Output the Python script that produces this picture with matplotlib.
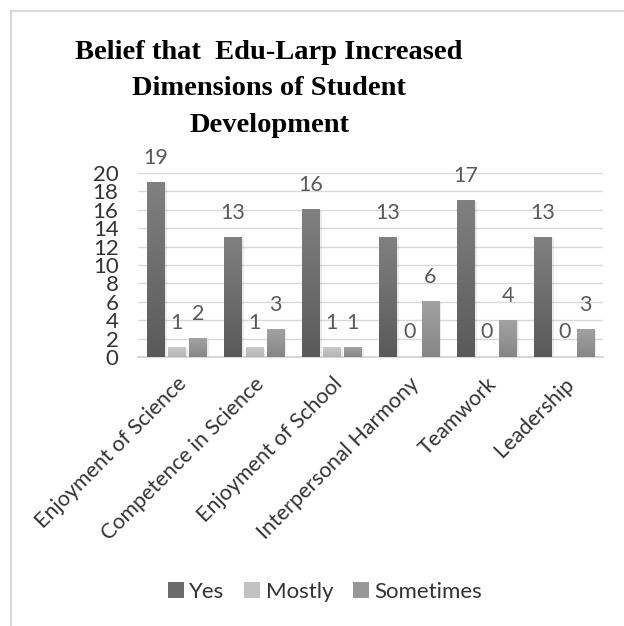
import matplotlib
matplotlib.use('Agg')
import matplotlib.pyplot as plt
import numpy as np
from matplotlib.patches import Rectangle
from matplotlib.colors import LinearSegmentedColormap
from matplotlib.transforms import ScaledTranslation

categories = ["Enjoyment of Science", "Competence in Science", "Enjoyment of School",
              "Interpersonal Harmony", "Teamwork", "Leadership"]
yes = [19, 13, 16, 13, 17, 13]
mostly = [1, 1, 1, 0, 0, 0]
sometimes = [2, 3, 1, 6, 4, 3]
series_names = ["Yes", "Mostly", "Sometimes"]
yticks = [0, 2, 4, 6, 8, 10, 12, 14, 16, 18, 20]

# (top colour, bottom colour, legend colour)
shades = [('#808080', '#5a5a5a', '#6b6b6b'),
          ('#c9c9c9', '#b4b4b4', '#c2c2c2'),
          ('#a2a2a2', '#868686', '#979797')]

text_grey = '#595959'
font = 'Lato'

fig = plt.figure(figsize=(6.24, 6.26), dpi=100, facecolor='white')
ax = fig.add_axes([138 / 624, 269 / 626, 465 / 624, 184 / 626])

x = np.arange(len(categories))
width = 0.225
step = 0.272
series = [yes, mostly, sometimes]

for i, vals in enumerate(series):
    top, bot, _ = shades[i]
    cmap = LinearSegmentedColormap.from_list('g%d' % i, [bot, top])
    for xi, v in zip(x + (i - 1) * step, vals):
        x0 = xi - width / 2
        if v > 0:
            # soft shadow
            ax.add_patch(Rectangle((x0 + 0.03, 0), width, v - 0.1, facecolor='#000000',
                                   alpha=0.08, linewidth=0, zorder=2))
            grad = np.linspace(0, 1, 64).reshape(-1, 1)
            ax.imshow(grad, cmap=cmap, extent=(x0, x0 + width, 0, v), origin='lower',
                      aspect='auto', zorder=3)
        ax.annotate(str(v), xy=(xi, v), xytext=(0, 10.5), textcoords='offset points',
                    ha='center', va='bottom', fontsize=15.5, color=text_grey,
                    family=font, zorder=5)

ax.set_xlim(-0.5, len(categories) - 0.5)
ax.set_ylim(0, 20)
ax.set_yticks(yticks)
ax.set_yticklabels([str(t) for t in yticks], fontsize=16, color='#333333', family=font)
ax.set_xticks(x)
ax.set_xticklabels(categories, rotation=45, ha='right', va='top', rotation_mode='anchor',
                   fontsize=15.5, color='#333333', family=font)
shift = ScaledTranslation(-4 / 100, 0, fig.dpi_scale_trans)
for lab in ax.get_xticklabels():
    lab.set_transform(lab.get_transform() + shift)
ax.tick_params(axis='both', length=0)
ax.tick_params(axis='y', pad=14)
ax.tick_params(axis='x', pad=12)
ax.grid(axis='y', color='#d9d9d9', linewidth=1)
ax.set_axisbelow(True)
for s in ['left', 'right', 'top']:
    ax.spines[s].set_visible(False)
ax.spines['bottom'].set_color('#d0d0d0')
ax.spines['bottom'].set_linewidth(1.2)

# legend
handles = [Rectangle((0, 0), 1, 1, facecolor=shades[i][2], edgecolor='none') for i in range(3)]
fig.legend(handles, series_names, loc='center', bbox_to_anchor=(325 / 624, 1 - 592 / 626),
           ncol=3, frameon=False, handlelength=0.7, handleheight=0.7, handletextpad=0.25,
           columnspacing=0.9, prop={'family': font, 'size': 16}, labelcolor='#333333')

fig.text(269 / 624, 1 - 40 / 626,
         "Belief that  Edu-Larp Increased\nDimensions of Student\nDevelopment",
         ha='center', va='top', multialignment='center', fontsize=20.5,
         fontweight='bold', family='Liberation Serif', linespacing=1.6)

# chart frame (only left and top edges fall inside the picture)
fig.add_artist(plt.Line2D([10.5 / 624, 10.5 / 624], [0, 1 - 10.5 / 626],
                          transform=fig.transFigure, color='#d9d9d9', linewidth=1.5))
fig.add_artist(plt.Line2D([10.5 / 624, 1], [1 - 10.5 / 626, 1 - 10.5 / 626],
                          transform=fig.transFigure, color='#d9d9d9', linewidth=1.5))

fig.savefig('out.png', dpi=100, facecolor='white')
